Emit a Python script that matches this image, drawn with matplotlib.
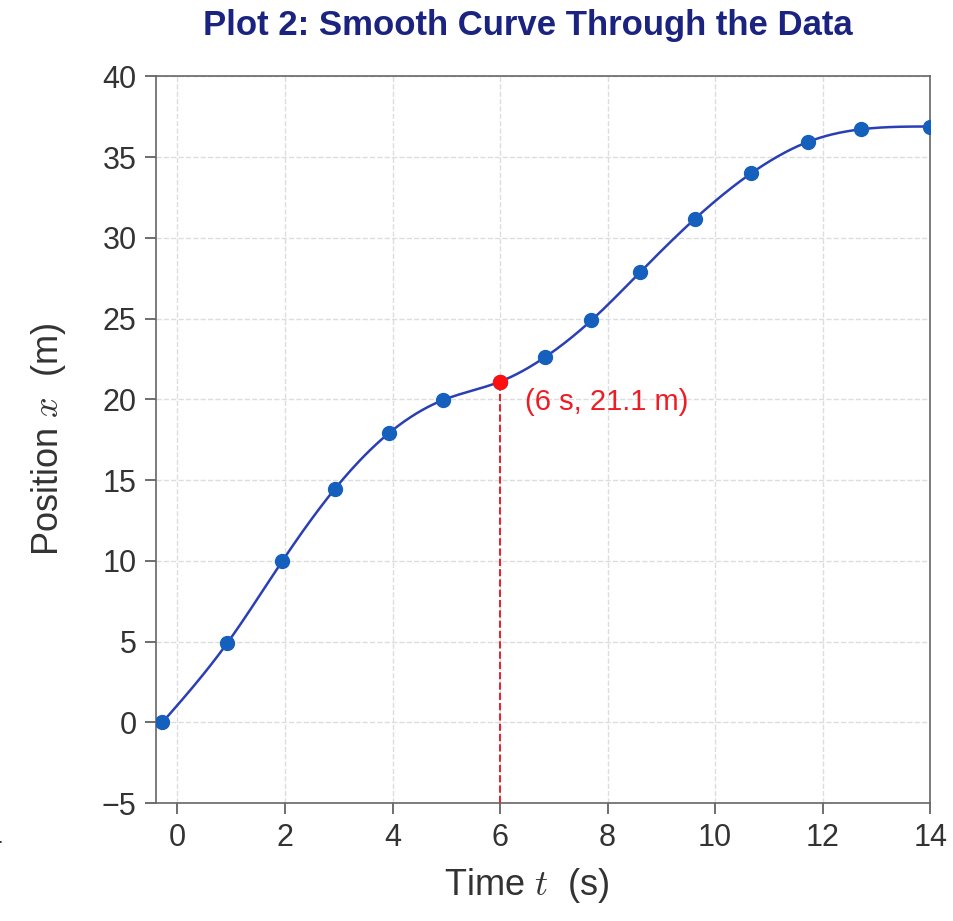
import numpy as np
import matplotlib
matplotlib.use('Agg')
import matplotlib.pyplot as plt

# data
t_data = [-0.28, 0.93, 1.95, 2.93, 3.94, 4.94, 6.0, 6.83, 7.7, 8.6, 9.63, 10.67, 11.73, 12.72, 14.0]
x_data = [0.0, 4.93, 9.99, 14.47, 17.93, 19.96, 21.1, 22.6, 24.9, 27.86, 31.2, 34.0, 35.95, 36.73, 36.9]
hl_t = 6
hl_x = 21.1
x_ticks = [0, 2, 4, 6, 8, 10, 12, 14]
y_ticks = [-5, 0, 5, 10, 15, 20, 25, 30, 35, 40]

plt.rcParams['font.family'] = ['Liberation Sans', 'DejaVu Sans']
plt.rcParams['mathtext.fontset'] = 'cm'


def natural_spline(xs, ys, xq):
    # natural cubic spline, small tridiagonal solve
    xs = np.asarray(xs, float)
    ys = np.asarray(ys, float)
    n = len(xs)
    h = np.diff(xs)
    A = np.zeros((n, n))
    b = np.zeros(n)
    A[0, 0] = 1
    A[-1, -1] = 1
    for i in range(1, n - 1):
        A[i, i - 1] = h[i - 1]
        A[i, i] = 2 * (h[i - 1] + h[i])
        A[i, i + 1] = h[i]
        b[i] = 3 * ((ys[i + 1] - ys[i]) / h[i] - (ys[i] - ys[i - 1]) / h[i - 1])
    c = np.linalg.solve(A, b)
    out = np.empty_like(xq)
    for j, q in enumerate(xq):
        i = min(max(np.searchsorted(xs, q) - 1, 0), n - 2)
        d = q - xs[i]
        bb = (ys[i + 1] - ys[i]) / h[i] - h[i] * (2 * c[i] + c[i + 1]) / 3
        dd = (c[i + 1] - c[i]) / (3 * h[i])
        out[j] = ys[i] + bb * d + c[i] * d ** 2 + dd * d ** 3
    return out


fig = plt.figure(figsize=(9.54, 9.21), dpi=100)
ax = fig.add_axes([0.1635, 0.128, 0.8115, 0.789])

tt = np.linspace(t_data[0], t_data[-1], 400)
ax.plot(tt, natural_spline(t_data, x_data, tt), color='#2b3fb5', lw=1.8, zorder=3)
ax.plot(t_data, x_data, 'o', color='#1560bd', ms=10, zorder=4)

# highlighted point
ax.plot([hl_t, hl_t], [-5, hl_x], color='#e8202a', ls='--', lw=1.4, zorder=2)
ax.plot(hl_t, hl_x, 'o', color='#ff1010', ms=10, zorder=5)
ax.annotate('(%d s, %.1f m)' % (hl_t, hl_x), (hl_t, hl_x), xytext=(18, -15),
            textcoords='offset points', color='#ee1c24', fontsize=21, va='center')

ax.set_xlim(-0.4, 14)
ax.set_ylim(-5, 40)
ax.set_xticks(x_ticks)
ax.set_yticks(y_ticks)
ax.set_yticklabels([str(v).replace('-', '\u2212') for v in y_ticks])
ax.tick_params(direction='out', length=8, width=1.2, colors='#555555', labelcolor='#333333',
               labelsize=22, pad=6)
for s in ax.spines.values():
    s.set_color('#666666')
    s.set_linewidth(1.2)
ax.grid(True, ls='--', color='#dddddd', lw=1.0)

ax.set_xlabel('Time $t$  (s)', fontsize=26, color='#333333')
ax.set_ylabel('Position $x$  (m)', fontsize=26, color='#333333')
ax.xaxis.set_label_coords(0.479, -0.086)
ax.yaxis.set_label_coords(-0.114, 0.5)
fig.text(0.553, 0.972, 'Plot 2: Smooth Curve Through the Data', ha='center', va='center',
         fontsize=25, fontweight='bold', color='#1a2380')
fig.text(-0.006, 0.088, '4', fontsize=20, color='#333333', ha='center', va='center')

fig.savefig('out.png', dpi=100, facecolor='white')
